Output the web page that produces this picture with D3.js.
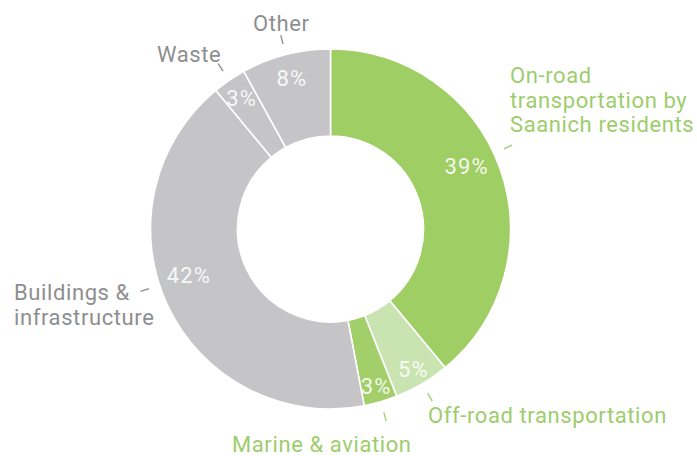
<!DOCTYPE html>
<html>
<head>
<meta charset="utf-8">
<script src="https://cdn.jsdelivr.net/npm/d3@7"></script>
<style>
  html, body { margin: 0; padding: 0; background: #ffffff; }
  svg { display: block; }
  text { font-family: Roboto, "Noto Sans", sans-serif; }
</style>
</head>
<body>
<div id="chart"></div>
<script>
// Community greenhouse gas emissions by sector (share of total, %)
const categories = [
  "On-road transportation by Saanich residents",
  "Off-road transportation",
  "Marine & aviation",
  "Buildings & infrastructure",
  "Waste",
  "Other"
];
const values = [39, 5, 3, 42, 3, 8];
const valueLabels = ["39%", "5%", "3%", "42%", "3%", "8%"];
// Label text broken into lines as it is set beside the ring
const labelLines = [
  ["On-road", "transportation by", "Saanich residents"],
  ["Off-road transportation"],
  ["Marine & aviation"],
  ["Buildings &", "infrastructure"],
  ["Waste"],
  ["Other"]
];

const W = 697, H = 456;
const cx = 330.5, cy = 229;
const outerR = 180, innerR = 93;

const fills = ["#9fce64", "#c9e4b0", "#a2cf69", "#c5c5c7", "#c5c5c7", "#c5c5c7"];
const inkGreen = "#9dcd6c", inkGray = "#8e8e90";
const ink = [inkGreen, inkGreen, inkGreen, inkGray, inkGray, inkGray];

// Annotation layout: angle nudges (degrees), percentage radius, and text anchors
const angleNudge = [-5, 0, 0, 7, 0, 0];
const pctRadius = [150, 163, 164, 149, 158, 155];
const textAnchor = [
  { x: 510, y: 83, anchor: "start" },
  { x: 428, y: 423, anchor: "start" },
  { x: 232, y: 452, anchor: "start" },
  { x: 14, y: 300, anchor: "start" },
  { x: 157, y: 62, anchor: "start" },
  { x: 253, y: 31, anchor: "start" }
];
const lineGap = 24.5;

const svg = d3.select("#chart").append("svg")
  .attr("width", W).attr("height", H);

const pie = d3.pie().sort(null).value(d => d)(values);
const arc = d3.arc().innerRadius(innerR).outerRadius(outerR);

const g = svg.append("g").attr("transform", `translate(${cx},${cy})`);

g.selectAll("path.slice")
  .data(pie)
  .join("path")
  .attr("class", "slice")
  .attr("d", arc)
  .attr("fill", (d, i) => fills[i])
  .attr("stroke", "#ffffff")
  .attr("stroke-width", 1.6);

const midAngle = (d, i) => (d.startAngle + d.endAngle) / 2 + angleNudge[i] * Math.PI / 180;
const polar = (a, r) => [r * Math.sin(a), -r * Math.cos(a)];

// Percentages inside the ring
g.selectAll("text.pct")
  .data(pie)
  .join("text")
  .attr("class", "pct")
  .attr("x", (d, i) => polar(midAngle(d, i), pctRadius[i])[0])
  .attr("y", (d, i) => polar(midAngle(d, i), pctRadius[i])[1])
  .attr("text-anchor", "middle")
  .attr("dominant-baseline", "central")
  .attr("fill", "#ffffff")
  .attr("fill-opacity", 0.9)
  .attr("font-size", 22)
  .attr("letter-spacing", 1.2)
  .text((d, i) => valueLabels[i]);

// Short leader ticks just outside the ring
g.selectAll("line.tick")
  .data(pie)
  .join("line")
  .attr("class", "tick")
  .attr("x1", (d, i) => polar(midAngle(d, i), 191)[0])
  .attr("y1", (d, i) => polar(midAngle(d, i), 191)[1])
  .attr("x2", (d, i) => polar(midAngle(d, i), 200)[0])
  .attr("y2", (d, i) => polar(midAngle(d, i), 200)[1])
  .attr("stroke", (d, i) => ink[i])
  .attr("stroke-width", 1.3);

// Category names
svg.selectAll("text.cat")
  .data(categories)
  .join("text")
  .attr("class", "cat")
  .attr("x", (d, i) => textAnchor[i].x)
  .attr("y", (d, i) => textAnchor[i].y)
  .attr("text-anchor", (d, i) => textAnchor[i].anchor)
  .attr("fill", (d, i) => ink[i])
  .attr("font-size", 22)
  .attr("letter-spacing", 0.6)
  .each(function (d, i) {
    d3.select(this).selectAll("tspan")
      .data(labelLines[i])
      .join("tspan")
      .attr("x", textAnchor[i].x)
      .attr("dy", (t, j) => j === 0 ? 0 : lineGap)
      .text(t => t);
  });
</script>
</body>
</html>
